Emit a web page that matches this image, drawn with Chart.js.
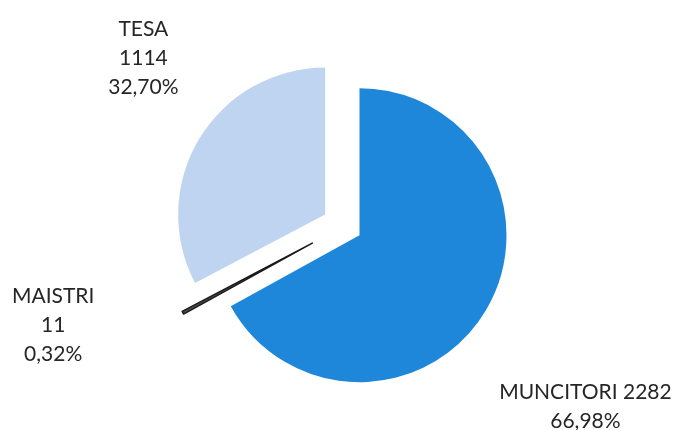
<!DOCTYPE html>
<html><head><meta charset="utf-8">
<script src="https://cdn.jsdelivr.net/npm/chart.js@4"></script>
<style>html,body{margin:0;padding:0;background:#fff}#wrap{width:679px;height:430px}</style>
</head><body><div id="wrap"><canvas id="c" width="679" height="430"></canvas></div>
<script>
const categories = ['MUNCITORI', 'MAISTRI', 'TESA'];
const counts = [2282, 11, 1114];
const percentLabels = ['66,98%', '0,32%', '32,70%'];
const sliceColors = ['#1e87da', '#4a4a4a', '#bfd4f0'];
const explodeDistances = [18, 36, 22];
// label layout: angle shift (deg) from slice mid-angle, distance as multiple of radius, and line arrangement
const labelLayout = [
  {shift: 6.2, dist: 2.05, lines: i => [categories[i] + ' ' + counts[i], percentLabels[i]]},
  {shift: 9.5, dist: 2.09, lines: i => [categories[i], String(counts[i]), percentLabels[i]]},
  {shift: 8.8, dist: 1.78, lines: i => [categories[i], String(counts[i]), percentLabels[i]]}
];

const explodePlugin = {
  id: 'explode',
  beforeDatasetDraw(chart, args) {
    const ctx = chart.ctx;
    args.meta.data.forEach((arc, i) => {
      const mid = (arc.startAngle + arc.endAngle) / 2;
      const d = explodeDistances[i];
      ctx.save();
      ctx.translate(Math.cos(mid) * d, Math.sin(mid) * d);
      arc.draw(ctx, chart.chartArea);
      ctx.restore();
    });
    return false;
  }
};

const labelPlugin = {
  id: 'sliceLabels',
  afterDatasetsDraw(chart) {
    const ctx = chart.ctx;
    const meta = chart.getDatasetMeta(0);
    ctx.save();
    ctx.fillStyle = '#262626';
    ctx.font = '21px Lato, "Open Sans", sans-serif';
    ctx.textAlign = 'center';
    ctx.textBaseline = 'middle';
    const lh = 29;
    meta.data.forEach((arc, i) => {
      const L = labelLayout[i];
      const a = (arc.startAngle + arc.endAngle) / 2 + L.shift * Math.PI / 180;
      const x = arc.x + Math.cos(a) * arc.outerRadius * L.dist;
      const y = arc.y + Math.sin(a) * arc.outerRadius * L.dist;
      const lines = L.lines(i);
      lines.forEach((t, k) => {
        ctx.fillText(t, x, y + (k - (lines.length - 1) / 2) * lh);
      });
    });
    ctx.restore();
  }
};

new Chart(document.getElementById('c'), {
  type: 'pie',
  data: {
    labels: categories,
    datasets: [{
      data: counts,
      backgroundColor: sliceColors,
      borderColor: ['rgba(0,0,0,0)', '#1a1a1a', 'rgba(0,0,0,0)'],
      borderWidth: [0, 1.5, 0],
      borderJoinStyle: 'round'
    }]
  },
  options: {
    responsive: false,
    animation: false,
    radius: 147,
    layout: {padding: {left: 9, right: 0, top: 22, bottom: 0}},
    plugins: {legend: {display: false}, tooltip: {enabled: false}}
  },
  plugins: [explodePlugin, labelPlugin]
});
</script>
</body></html>
